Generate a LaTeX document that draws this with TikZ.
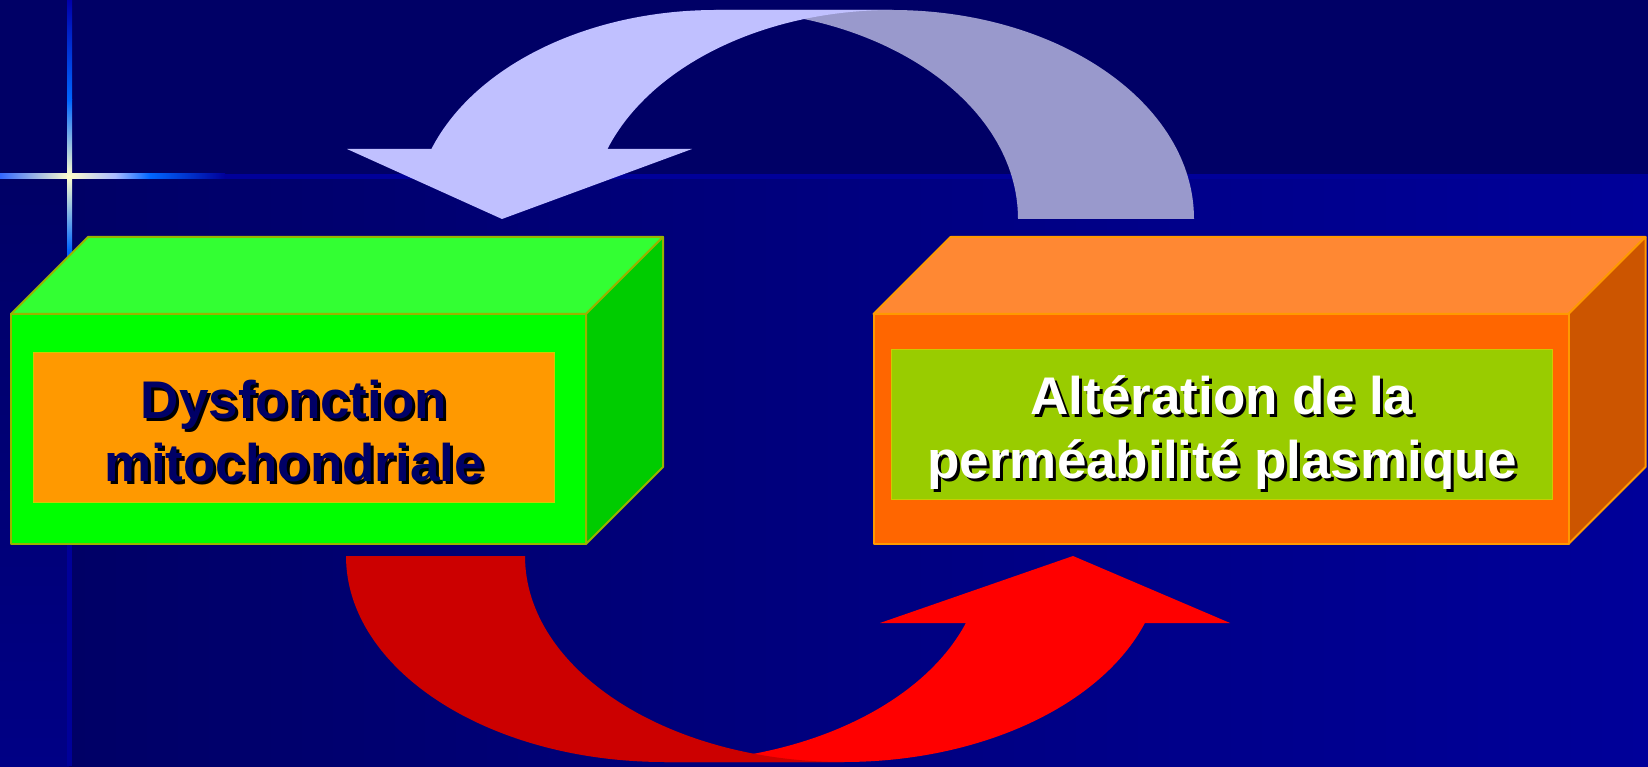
\documentclass[tikz,border=0pt]{standalone}
\usepackage{fontspec}
\setmainfont{Liberation Sans}
\definecolor{bgtop}{HTML}{000066}
\definecolor{bgright}{HTML}{000099}
\definecolor{bgleft}{HTML}{000085}
\definecolor{lineblue}{HTML}{000099}
\definecolor{linetop}{HTML}{0000AA}
\definecolor{brightblue}{HTML}{0066FF}
\definecolor{cream}{HTML}{FFFFCC}
\definecolor{skyblue}{HTML}{3366FF}
\definecolor{paleblue}{HTML}{AABBFF}
\definecolor{lav}{HTML}{C0C0FF}
\definecolor{lavdark}{HTML}{9999CC}
\definecolor{reddark}{HTML}{CC0000}
\definecolor{redbright}{HTML}{FF0000}
\definecolor{gtop}{HTML}{33FF33}
\definecolor{gfront}{HTML}{00FF00}
\definecolor{gright}{HTML}{00CC00}
\definecolor{gedge}{HTML}{99B300}
\definecolor{orin}{HTML}{FF9900}
\definecolor{otop}{HTML}{FF8833}
\definecolor{ofront}{HTML}{FF6600}
\definecolor{oright}{HTML}{CC5500}
\definecolor{oedge}{HTML}{FF9900}
\definecolor{grin}{HTML}{99CC00}
\definecolor{inedge}{HTML}{CCCC00}
\definecolor{navy}{HTML}{000066}
\begin{document}
\begin{tikzpicture}[x=0.5pt,y=0.5pt,
  txt/.style={font=\fontsize{26.5}{31.75}\selectfont\bfseries, inner sep=0pt, anchor=base},
  shadowtxt/.style={txt, text=black, xshift=1.5pt, yshift=-1.5pt},
  gface/.style={draw=gedge, line width=1pt, line join=round},
  oface/.style={draw=oedge, line width=1pt, line join=round},
  inbox/.style={draw=inedge, line width=0.5pt},
  ell/.style={x radius=#1}]
\useasboundingbox (0,0) rectangle (1648,766);
% background
\fill[bgtop] (0,0) rectangle (1648,766);
\shade[left color=bgtop, right color=bgright] (69,0) rectangle (1648,589.5);
\shade[top color=bgtop, bottom color=bgleft] (0,0) rectangle (69,589.5);
% decorative cross
\fill[lineblue] (0,587) rectangle (1648,592);
\shade[left color=skyblue, right color=cream] (0,587) rectangle (69.5,592);
\shade[left color=cream, right color=paleblue] (69.5,587) rectangle (115,592);
\shade[left color=paleblue, right color=brightblue] (115,587) rectangle (150,592);
\shade[left color=brightblue, right color=lineblue] (150,587) rectangle (225,592);
\fill[lineblue] (67,0) rectangle (72,436);
\shade[top color=linetop, bottom color=brightblue] (67,666) rectangle (72,766);
\shade[top color=brightblue, bottom color=cream] (67,589.5) rectangle (72,666);
\shade[top color=cream, bottom color=brightblue] (67,516) rectangle (72,589.5);
\shade[top color=brightblue, bottom color=lineblue] (67,436) rectangle (72,516);
% top curved arrow (back part, then front part)
\fill[lavdark] (1018,547) arc[start angle=0, end angle=90, x radius=302, y radius=209]
  -- (892,756) arc[start angle=90, end angle=0, x radius=302, y radius=209] -- cycle;
\fill[lav] (431.4,617) arc[start angle=160.43, end angle=90, x radius=302, y radius=209]
  -- (892,756) arc[start angle=90, end angle=160.43, x radius=302, y radius=209]
  -- (692,617) -- (502,547) -- (347,617) -- cycle;
% bottom curved arrow (front part, then back part)
\fill[redbright] (664.6,4) -- (843.6,4) arc[start angle=270, end angle=341.02, x radius=318.6, y radius=206]
  -- (1230,143) -- (1073,210) -- (880,143) -- (965.9,143)
  arc[start angle=341.02, end angle=270, x radius=318.6, y radius=206] -- cycle;
\fill[reddark] (346,210) arc[start angle=180, end angle=270, x radius=318.6, y radius=206]
  -- (843.6,4) arc[start angle=270, end angle=180, x radius=318.6, y radius=206] -- cycle;
% left box
\filldraw[gface, fill=gtop] (11,452) -- (88,529) -- (663,529) -- (586,452) -- cycle;
\filldraw[gface, fill=gright] (586,222) -- (663,299) -- (663,529) -- (586,452) -- cycle;
\filldraw[gface, fill=gfront] (11,222) rectangle (586,452);
\filldraw[inbox, fill=orin] (33.5,263) rectangle (554.5,413);
% right box
\filldraw[oface, fill=otop] (873.5,452) -- (950.5,529) -- (1645.5,529) -- (1568.5,452) -- cycle;
\filldraw[oface, fill=oright] (1568.5,222) -- (1645.5,299) -- (1645.5,529) -- (1568.5,452) -- cycle;
\filldraw[oface, fill=ofront] (873.5,222) rectangle (1568.5,452);
\filldraw[inbox, fill=grin] (891.7,266.7) rectangle (1552.5,416);
% texts
\node[shadowtxt] (l1s) at (294,347) {Dysfonction};
\node[txt, text=navy] (l1) at (294,347) {Dysfonction};
\node[shadowtxt] (l2s) at (294,284.3) {mitochondriale};
\node[txt, text=navy] (l2) at (294,284.3) {mitochondriale};
\node[shadowtxt] (r1s) at (1222,351.7) {Altération de la};
\node[txt, text=white] (r1) at (1222,351.7) {Altération de la};
\node[shadowtxt] (r2s) at (1222,287.7) {perméabilité plasmique};
\node[txt, text=white] (r2) at (1222,287.7) {perméabilité plasmique};
\end{tikzpicture}
\end{document}
